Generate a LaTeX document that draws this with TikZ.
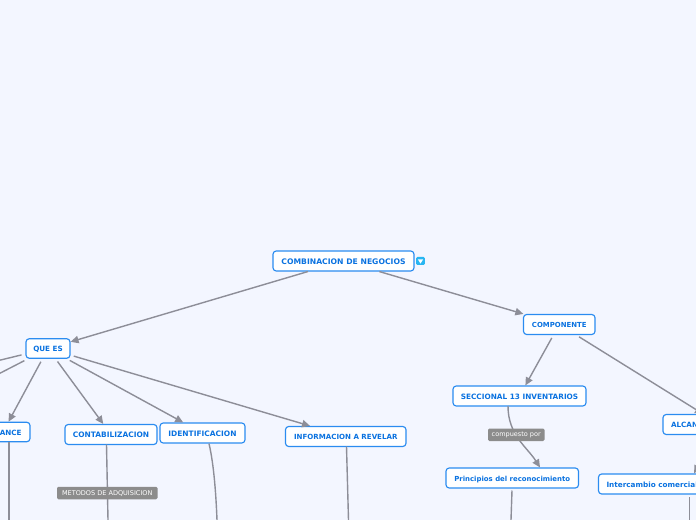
\documentclass[tikz,border=0pt]{standalone}
\usepackage{fontspec}
\setmainfont{DejaVu Sans}
\usetikzlibrary{arrows.meta,calc}
\definecolor{bgc}{HTML}{F3F6FF}
\definecolor{edgec}{HTML}{2B8CF0}
\definecolor{textc}{HTML}{0A72E0}
\definecolor{linec}{HTML}{8D8E98}
\definecolor{labc}{HTML}{8C8C8C}
\definecolor{iconc}{HTML}{29B6F2}
\tikzset{
  box/.style n args={2}{draw=edgec,line width=0.85pt,fill=white,rounded corners=2.4pt,inner sep=0pt,
    text height=5pt,text depth=0pt,
    minimum width=#1*0.75pt,minimum height=#2*0.75pt,text=textc,font=\fontsize{5.75pt}{6.5pt}\selectfont\bfseries},
  fs/.style={font=\fontsize{#1}{6.5pt}\selectfont\bfseries},
  tag/.style n args={2}{fill=labc,rounded corners=1pt,inner sep=0pt,
    minimum width=#1*0.75pt,minimum height=#2*0.75pt,text=white,font=\fontsize{4.9pt}{6pt}\selectfont},
  conn/.style={draw=linec,line width=1.05pt},
  arr/.style={conn,-{Triangle[length=6pt,width=5.5pt]}},
}
\begin{document}
\begin{tikzpicture}[x=0.75pt,y=-0.75pt]
\path[use as bounding box,clip] (0,0) rectangle (696,520);
\fill[bgc] (0,0) rectangle (696,520);
% nodes
\node[box={141}{20}] (root) at (343.5,261) {COMBINACION DE NEGOCIOS};
\node[box={44}{19.5},fs=5.4pt] (quees) at (48,348.5) {QUE ES};
\node[box={54}{19.5},fs=5.4pt] (alcl) at (3,432) {ALCANCE\hspace{7.5pt}};
\node[box={92}{20},fs=5.6pt] (cont) at (111,434.5) {CONTABILIZACION};
\node[box={85}{20},fs=5.6pt] (iden) at (202.5,433) {IDENTIFICACION};
\node[box={120.5}{20},fs=5.3pt] (info) at (345.75,436.5) {INFORMACION A REVELAR};
\node[box={71.5}{20},fs=5.2pt] (comp) at (559.25,324.5) {COMPONENTE};
\node[box={133}{20},fs=5.5pt] (secc) at (519.5,396) {SECCIONAL 13 INVENTARIOS};
\node[box={132.5}{20},fs=5.2pt] (prin) at (512.25,478) {Principios del reconocimiento};
\node[box={114}{20},fs=5.4pt,text width=73.5pt,align=left] (alcr) at (720,424.5) {ALCANCE};
\node[box={180}{20},fs=5.45pt,text width=123pt,align=left] (inte) at (688.5,484) {Intercambio comercial};
% icon
\node[fill=iconc,rounded corners=1pt,minimum width=6.7pt,minimum height=6pt,inner sep=0pt] (icon) at (420.5,261) {};
\fill[white] ($(icon.center)+(-2.6,-1.6)$) -- ++(5.2,0) -- ++(-2.6,4.2) -- cycle;
% free ends
\coordinate (fl1) at (-20,365);
\coordinate (fl2) at (-20,383.5);
\coordinate (a1) at (9,520);
\coordinate (c1) at (108,520);
\coordinate (i1) at (217,520);
\coordinate (r1) at (348.5,520);
\coordinate (p1) at (511,520);
\coordinate (n1) at (689.5,520);
% connectors
\draw[arr] (root) -- (quees);
\draw[arr] (root) -- (comp);
\draw[conn,shorten <=3pt] (quees) -- (fl1);
\draw[conn,shorten <=3pt] (quees) -- (fl2);
\draw[arr,shorten <=2.5pt] (quees) -- (alcl);
\draw[arr,shorten <=2.5pt] (quees) -- (cont);
\draw[arr,shorten <=2.5pt] (quees) -- (iden);
\draw[arr,shorten <=2.5pt] (quees) -- (info);
\draw[arr,shorten <=2.5pt] (comp) -- (secc);
\draw[arr,shorten <=2.5pt] (comp) -- (alcr);
\draw[arr,shorten <=2.5pt] (alcr) -- (inte);
\draw[conn] (9,441.75) -- (a1);
\draw[conn] (106.5,444.5) -- (c1);
\draw[conn] (iden.south -| 209,0) .. controls (214,465) and (216,495) .. (i1);
\draw[conn] (346.5,446.5) -- (r1);
\draw[arr] (508,406) .. controls (508,435) and (527,447) .. (prin.north -| 540,0);
\draw[conn] (512,490.5) -- (p1);
\draw[conn] (689.5,497) -- (n1);
% labels
\node[tag={100.5}{12.5}] (metodos) at (107.25,493) {METODOS DE ADQUISICION};
\node[tag={56.5}{12.5}] (comppor) at (516.25,434.75) {compuesto por};
\end{tikzpicture}
\end{document}
